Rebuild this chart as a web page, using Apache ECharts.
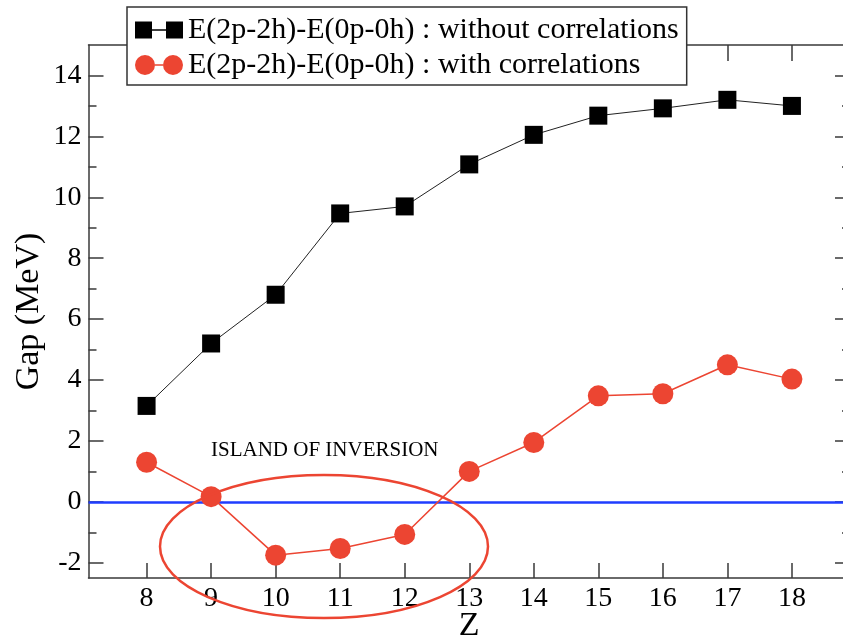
<!DOCTYPE html>
<html>
<head>
<meta charset="utf-8">
<script src="https://cdn.jsdelivr.net/npm/echarts@6/dist/echarts.min.js"></script>
<style>
  html, body { margin: 0; padding: 0; background: #fff; }
  #chart { width: 843px; height: 637px; }
</style>
</head>
<body>
<div id="chart"></div>
<script>
// data
const zValues = [8, 9, 10, 11, 12, 13, 14, 15, 16, 17, 18]
const gapWithout = [3.15, 5.2, 6.8, 9.47, 9.7, 11.08, 12.05, 12.68, 12.92, 13.2, 13.0]
const gapWith = [1.3, 0.17, -1.75, -1.53, -1.07, 1.0, 1.95, 3.48, 3.55, 4.5, 4.03]
const yMajor = [-2, 0, 2, 4, 6, 8, 10, 12, 14]
const yMinor = [-1, 1, 3, 5, 7, 9, 11, 13]

const serif = 'Liberation Serif'
const red = '#ec4532'
const axisCol = '#3a3a3a'

const pairs = (ys) => zValues.map((z, i) => [z, ys[i]])

// y axis helper: major ticks with labels, minor ticks without
const yAx = (pos, ticks, len, labels) => ({
  type: 'value', position: pos, min: -2.5, max: 15,
  axisLine: { show: labels, onZero: false, lineStyle: { color: axisCol, width: 1.5 } },
  axisTick: { show: true, inside: true, length: len, customValues: ticks, lineStyle: { color: axisCol, width: 1.5 } },
  axisLabel: { show: labels, customValues: ticks, margin: 7, color: '#000', fontFamily: serif, fontSize: 28 },
  splitLine: { show: false }
})

const squaresIcon = 'path://M0,0H17V17H0Z M31,0H48V17H31Z M17,7.8H31V9.2H17Z'
const circlesIcon = 'path://M0,10A10,10,0,1,1,20,10A10,10,0,1,1,0,10Z M28,10A10,10,0,1,1,48,10A10,10,0,1,1,28,10Z M20,9.3H28V10.7H20Z'

let options = {
  animation: false,
  backgroundColor: '#fff',
  grid: { left: 88.5, right: -7, top: 45, bottom: 59, outerBoundsMode: 'none' },
  legend: {
    left: 127, top: 7, orient: 'vertical',
    backgroundColor: '#fff', borderColor: '#333', borderWidth: 1.5,
    padding: [8, 8, 5, 8], itemGap: 5, itemWidth: 48, itemHeight: 20, itemTextGap: 9,
    textStyle: { color: '#000', fontFamily: serif, fontSize: 30 },
    data: [
      { name: 'E(2p-2h)-E(0p-0h) : without correlations', icon: squaresIcon },
      { name: 'E(2p-2h)-E(0p-0h) : with correlations', icon: circlesIcon }
    ]
  },
  xAxis: [
    {
      type: 'value', position: 'bottom', min: 7.1, max: 18.9,
      name: 'Z', nameLocation: 'middle', nameGap: 31, nameMoveOverlap: false,
      nameTextStyle: { color: '#000', fontFamily: serif, fontSize: 34 },
      axisLine: { onZero: false, lineStyle: { color: axisCol, width: 1.5 } },
      axisTick: { inside: true, length: 15, customValues: zValues, lineStyle: { color: axisCol, width: 1.5 } },
      axisLabel: { customValues: zValues, margin: 7, color: '#000', fontFamily: serif, fontSize: 28 },
      splitLine: { show: false }
    },
    {
      type: 'value', position: 'top', min: 7.1, max: 18.9,
      axisLine: { show: true, onZero: false, lineStyle: { color: axisCol, width: 1.5 } },
      axisTick: { show: true, inside: true, length: 16, customValues: zValues, lineStyle: { color: axisCol, width: 1.5 } },
      axisLabel: { show: false },
      splitLine: { show: false }
    }
  ],
  yAxis: [
    Object.assign(yAx('left', yMajor, 15, true), {
      name: 'Gap (MeV)', nameLocation: 'middle', nameGap: 42, nameMoveOverlap: false,
      nameTextStyle: { color: '#000', fontFamily: serif, fontSize: 34 }
    }),
    yAx('left', yMinor, 8, false),
    yAx('right', yMajor, 15, false),
    yAx('right', yMinor, 8, false)
  ],
  series: [
    {
      name: 'E(2p-2h)-E(0p-0h) : without correlations',
      type: 'line', data: pairs(gapWithout),
      symbol: 'rect', symbolSize: 18,
      itemStyle: { color: '#000' },
      lineStyle: { color: '#222', width: 1 },
      z: 4
    },
    {
      name: 'E(2p-2h)-E(0p-0h) : with correlations',
      type: 'line', data: pairs(gapWith),
      symbol: 'circle', symbolSize: 21,
      itemStyle: { color: red },
      lineStyle: { color: red, width: 1.5 },
      z: 4,
      markLine: {
        silent: true, symbol: 'none', label: { show: false },
        lineStyle: { color: '#1f3dff', width: 2.5, type: 'solid' },
        data: [{ yAxis: 0 }],
        z: 2
      }
    }
  ],
  graphic: [
    {
      type: 'text', left: 211, top: 440, z: 10,
      style: { text: 'ISLAND OF INVERSION', fill: '#000', font: '21px "Liberation Serif"' }
    },
    {
      type: 'ellipse', z: 10,
      shape: { cx: 324, cy: 546.5, rx: 164, ry: 71.5 },
      style: { fill: 'none', stroke: red, lineWidth: 2.5 }
    }
  ]
}

let chart = echarts.init(document.getElementById('chart'))
chart.setOption(options)
</script>
</body>
</html>
